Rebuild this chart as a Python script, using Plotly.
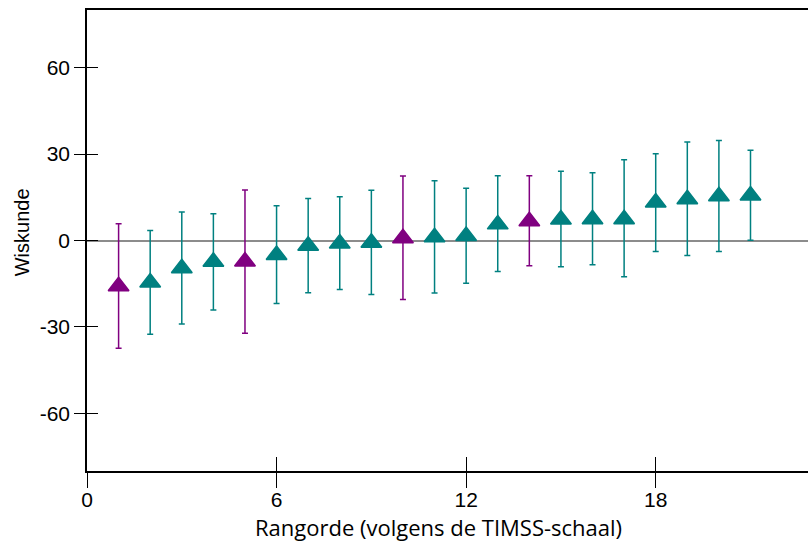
import plotly.graph_objects as go

# Data
rank = list(range(1, 22))
value = [-15.9, -14.6, -9.6, -7.4, -7.3, -5.0, -1.8, -1.0, -0.8, 0.8, 1.1,
         1.6, 5.6, 6.7, 7.3, 7.4, 7.4, 13.2, 14.3, 15.4, 15.6]
upper = [5.8, 3.5, 9.9, 9.3, 17.5, 12.1, 14.6, 15.2, 17.4, 22.4, 20.7,
         18.1, 22.5, 22.5, 24.0, 23.5, 28.0, 30.1, 34.2, 34.7, 31.3]
lower = [-37.4, -32.5, -29.0, -24.1, -32.2, -21.9, -18.1, -17.0, -18.7, -20.5, -18.2,
         -14.8, -10.8, -8.8, -9.1, -8.4, -12.6, -3.8, -5.2, -3.8, 0.1]
group = ["paars", "teal", "teal", "teal", "paars", "teal", "teal", "teal", "teal", "paars", "teal",
         "teal", "teal", "paars", "teal", "teal", "teal", "teal", "teal", "teal", "teal"]

x_ticks = [0, 6, 12, 18]
x_tick_labels = ["0", "6", "12", "18"]
y_ticks = [-60, -30, 0, 30, 60]
y_tick_labels = ["-60", "-30", "0", "30", "60"]

x_title = "Rangorde (volgens de TIMSS-schaal)"
y_title = "Wiskunde"

colors = {"teal": "#008080", "paars": "#800080"}
X_RANGE = [0, 22.82]
Y_RANGE = [-80, 80]

fig = go.Figure()
for grp in ["teal", "paars"]:
    idx = [i for i, g in enumerate(group) if g == grp]
    xs = [rank[i] for i in idx]
    ys = [value[i] for i in idx]
    ep = [upper[i] - value[i] for i in idx]
    em = [value[i] - lower[i] for i in idx]
    c = colors[grp]
    fig.add_trace(go.Scatter(
        x=xs, y=ys, mode="markers",
        marker=dict(symbol="triangle-up", size=18, color=c, line=dict(color=c, width=1.5)),
        error_y=dict(type="data", symmetric=False, array=ep, arrayminus=em,
                     color=c, thickness=1.5, width=3),
        showlegend=False, hoverinfo="x+y",
    ))

# dummy traces so overlay axes render
fig.add_trace(go.Scatter(x=[None], y=[None], xaxis="x2", yaxis="y", showlegend=False, hoverinfo="skip"))
fig.add_trace(go.Scatter(x=[None], y=[None], xaxis="x3", yaxis="y", showlegend=False, hoverinfo="skip"))
fig.add_trace(go.Scatter(x=[None], y=[None], xaxis="x", yaxis="y2", showlegend=False, hoverinfo="skip"))

tick_font = dict(family="Liberation Sans, Arial", size=21, color="black")
title_font = dict(family="Open Sans", size=22, color="black")

fig.update_layout(
    width=808, height=544,
    margin=dict(l=87, r=0, t=10, b=73),
    plot_bgcolor="white", paper_bgcolor="white",
    showlegend=False,
    xaxis=dict(range=X_RANGE, tickmode="array", tickvals=x_ticks, ticktext=x_tick_labels,
               ticks="outside", ticklen=15, tickwidth=1, tickcolor="black",
               ticklabelstandoff=-6,
               showline=True, linecolor="black", linewidth=1.5,
               showgrid=False, zeroline=False, tickfont=tick_font),
    xaxis2=dict(overlaying="x", anchor="y", side="bottom", range=X_RANGE,
                tickmode="array", tickvals=x_ticks[1:], ticks="inside", ticklen=14,
                tickwidth=1, tickcolor="black", showticklabels=False,
                showline=False, showgrid=False, zeroline=False),
    xaxis3=dict(overlaying="x", anchor="y", side="top", range=X_RANGE,
                ticks="", showticklabels=False, showline=True, linecolor="black",
                linewidth=1.5, showgrid=False, zeroline=False),
    yaxis=dict(range=Y_RANGE, tickmode="array", tickvals=y_ticks, ticktext=y_tick_labels,
               ticks="outside", ticklen=11, tickwidth=1, tickcolor="black",
               showline=True, linecolor="black", linewidth=1.5,
               showgrid=False, zeroline=True, zerolinecolor="#8c8c8c", zerolinewidth=1.5,
               tickfont=tick_font),
    yaxis2=dict(overlaying="y", anchor="x", side="left", range=Y_RANGE,
                tickmode="array", tickvals=y_ticks, ticks="inside", ticklen=11,
                tickwidth=1, tickcolor="black", showticklabels=False,
                showline=False, showgrid=False, zeroline=False),
    annotations=[
        dict(text=x_title, xref="paper", yref="paper", x=0.488, y=-0.1215,
             xanchor="center", yanchor="middle", showarrow=False, font=title_font),
        dict(text=x_title, xref="paper", yref="paper", x=0.488, y=1,
             xanchor="center", yanchor="bottom", yshift=7, showarrow=False,
             font=title_font),
        dict(text=y_title, xref="paper", yref="paper", x=-0.09, y=0.518,
             xanchor="center", yanchor="middle", textangle=-90, showarrow=False,
             font=dict(family="Liberation Sans, Arial", size=20, color="black")),
    ],
)

fig.write_html("out.html")
